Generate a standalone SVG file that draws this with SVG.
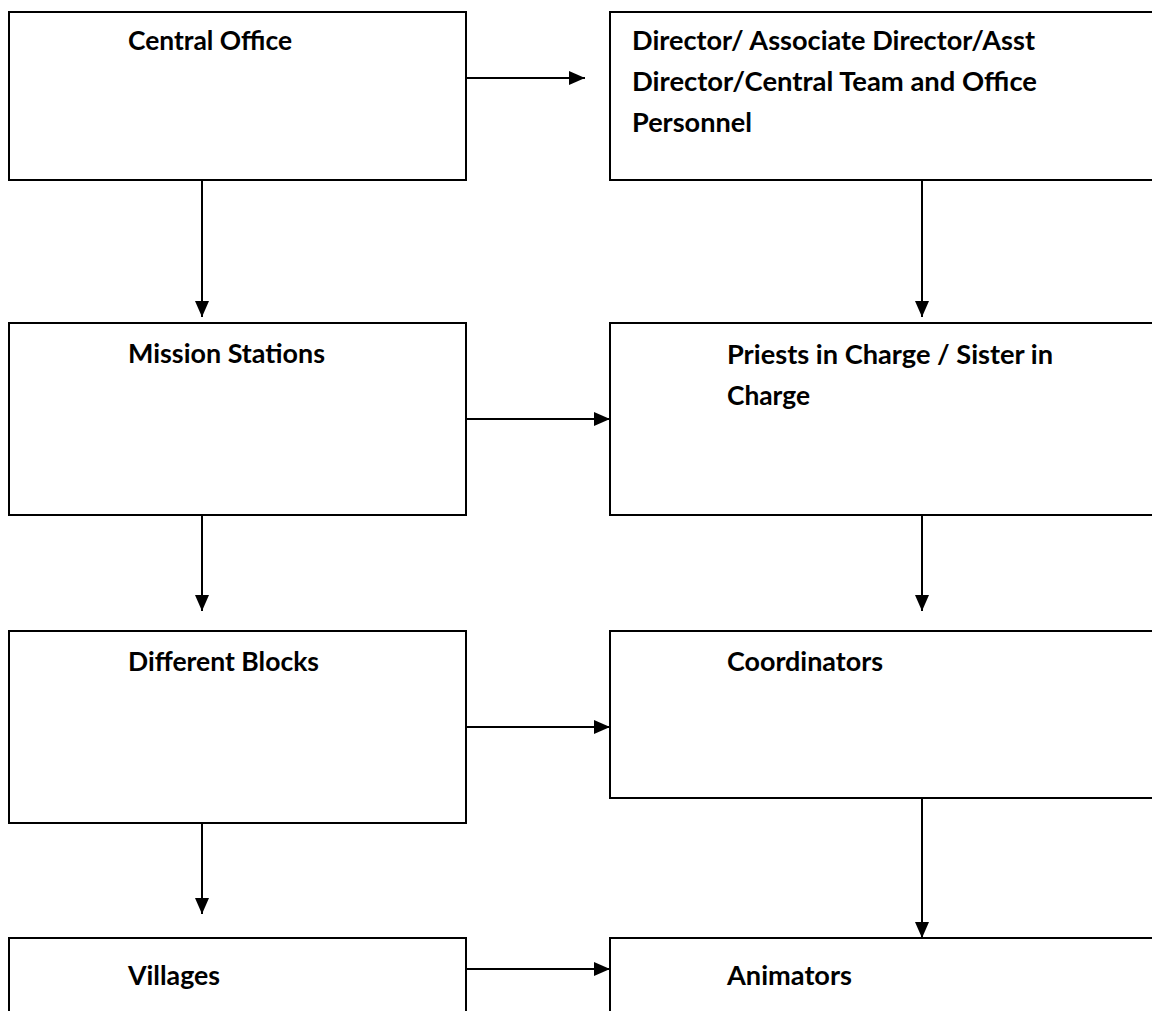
<svg xmlns="http://www.w3.org/2000/svg" width="1152" height="1011" viewBox="0 0 1152 1011">
<style>
.box{fill:#fff;stroke:#000;stroke-width:2}
.lbl{font-family:Lato,"Open Sans","Liberation Sans",sans-serif;font-weight:bold;font-size:27px;fill:#000}
.c{stroke:#000;stroke-width:2;fill:none}
</style>
<defs>
<marker id="ah" markerUnits="userSpaceOnUse" markerWidth="16" markerHeight="14" refX="16" refY="7" orient="auto">
<path d="M0,0 L16,7 L0,14 z" fill="#000"/>
</marker>
</defs>
<rect width="1152" height="1011" fill="#fff"/>
<g id="connectors">
<line class="c" x1="466" y1="78" x2="585" y2="78" marker-end="url(#ah)"/>
<line class="c" x1="202" y1="173" x2="202" y2="317" marker-end="url(#ah)"/>
<line class="c" x1="922" y1="173" x2="922" y2="317" marker-end="url(#ah)"/>
<line class="c" x1="466" y1="419" x2="610" y2="419" marker-end="url(#ah)"/>
<line class="c" x1="202" y1="515" x2="202" y2="611" marker-end="url(#ah)"/>
<line class="c" x1="922" y1="515" x2="922" y2="611" marker-end="url(#ah)"/>
<line class="c" x1="466" y1="727" x2="610" y2="727" marker-end="url(#ah)"/>
<line class="c" x1="202" y1="823" x2="202" y2="914" marker-end="url(#ah)"/>
<line class="c" x1="922" y1="798" x2="922" y2="938" marker-end="url(#ah)"/>
<line class="c" x1="466" y1="969" x2="610" y2="969" marker-end="url(#ah)"/>
</g>
<g id="central-office">
<rect class="box" x="9" y="12" width="457" height="168"/>
<text class="lbl" x="128" y="50" textLength="164" lengthAdjust="spacingAndGlyphs">Central Office</text>
</g>
<g id="director">
<rect class="box" x="610" y="12" width="560" height="168"/>
<text class="lbl" x="632" y="50" textLength="403" lengthAdjust="spacingAndGlyphs">Director/ Associate Director/Asst</text>
<text class="lbl" x="632" y="91" textLength="405" lengthAdjust="spacingAndGlyphs">Director/Central Team and Office</text>
<text class="lbl" x="632" y="132" textLength="120" lengthAdjust="spacingAndGlyphs">Personnel</text>
</g>
<g id="mission-stations">
<rect class="box" x="9" y="323" width="457" height="192"/>
<text class="lbl" x="128" y="363" textLength="197" lengthAdjust="spacingAndGlyphs">Mission Stations</text>
</g>
<g id="priests">
<rect class="box" x="610" y="323" width="560" height="192"/>
<text class="lbl" x="727" y="364" textLength="326" lengthAdjust="spacingAndGlyphs">Priests in Charge / Sister in</text>
<text class="lbl" x="727" y="405" textLength="83" lengthAdjust="spacingAndGlyphs">Charge</text>
</g>
<g id="different-blocks">
<rect class="box" x="9" y="631" width="457" height="192"/>
<text class="lbl" x="128" y="671" textLength="191" lengthAdjust="spacingAndGlyphs">Different Blocks</text>
</g>
<g id="coordinators">
<rect class="box" x="610" y="631" width="560" height="167"/>
<text class="lbl" x="727" y="671" textLength="156" lengthAdjust="spacingAndGlyphs">Coordinators</text>
</g>
<g id="villages">
<rect class="box" x="9" y="938" width="457" height="100"/>
<text class="lbl" x="128" y="985" textLength="92" lengthAdjust="spacingAndGlyphs">Villages</text>
</g>
<g id="animators">
<rect class="box" x="610" y="938" width="560" height="100"/>
<text class="lbl" x="727" y="985" textLength="125" lengthAdjust="spacingAndGlyphs">Animators</text>
</g>
</svg>
